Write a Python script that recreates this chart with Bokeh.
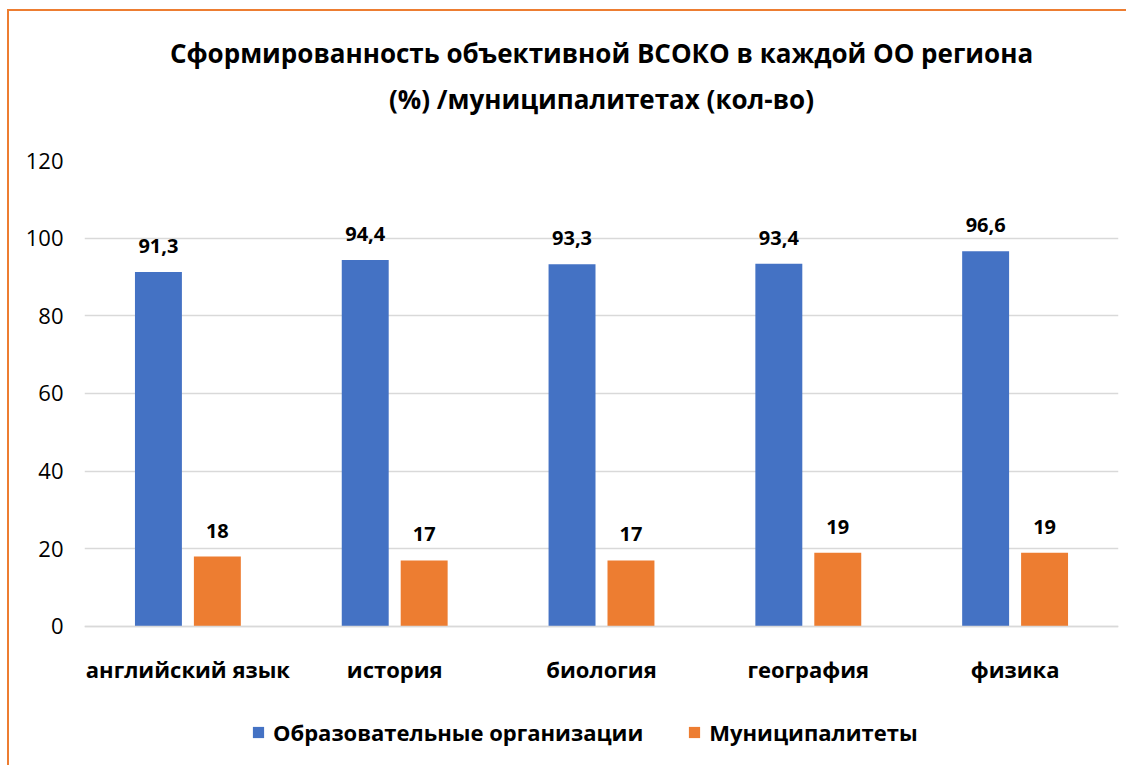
from bokeh.plotting import figure
from bokeh.models import (ColumnDataSource, Range1d, Legend, LegendItem,
                          FixedTicker, LinearAxis)
from bokeh.transform import dodge
from bokeh.core.properties import value
from bokeh.embed import file_html
from bokeh.resources import INLINE

categories = ["английский язык", "история", "биология", "география", "физика"]
orgs = [91.3, 94.4, 93.3, 93.4, 96.6]
munis = [18, 17, 17, 19, 19]
yticks = [0, 20, 40, 60, 80, 100, 120]
series_names = ["Образовательные организации", "Муниципалитеты"]
title_lines = ["Сформированность объективной ВСОКО в каждой ОО региона",
               "(%) /муниципалитетах (кол-во)"]

FONT = "Open Sans"
BLUE = "#4472C4"
ORANGE = "#ED7D31"

# category slot centres on a numeric axis (one unit per category)
xc = [i + 0.5 for i in range(len(categories))]

src = ColumnDataSource(dict(
    xc=xc,
    cat=categories,
    orgs=orgs,
    munis=munis,
    orgs_lbl=[f"{v:.1f}".replace(".", ",") for v in orgs],
    munis_lbl=[str(v) for v in munis],
))

# frame extends below the value axis so that category labels and legend sit inside it
p = figure(x_range=Range1d(0, len(categories)), y_range=Range1d(-35.8, 120),
           frame_width=1034, frame_height=605,
           min_border_left=75, min_border_right=8, min_border_top=149, min_border_bottom=0,
           output_backend="svg", toolbar_location=None, title=None)
p.styles = {"border-left": "2px solid #ED7D31", "border-top": "2px solid #ED7D31",
            "margin-left": "7px", "margin-top": "9px"}
p.outline_line_color = None
p.background_fill_color = "white"
p.border_fill_color = "white"

r1 = p.vbar(x=dodge("xc", -0.1425), top="orgs", bottom=0, width=0.227,
            source=src, fill_color=BLUE, line_color=None)
r2 = p.vbar(x=dodge("xc", 0.1425), top="munis", bottom=0, width=0.227,
            source=src, fill_color=ORANGE, line_color=None)

for col, lbl, off in [("orgs", "orgs_lbl", -0.1425), ("munis", "munis_lbl", 0.1425)]:
    p.text(x=dodge("xc", off), y=col, text=lbl, source=src,
           text_align="center", text_baseline="bottom", y_offset=-19,
           text_font=value(FONT), text_font_style="bold", text_font_size="20px",
           text_color="black")

# axes
p.yaxis.ticker = FixedTicker(ticks=yticks)
p.yaxis.axis_line_color = None
p.yaxis.major_tick_line_color = None
p.yaxis.minor_tick_line_color = None
p.yaxis.major_tick_out = 0
p.yaxis.major_label_text_font = FONT
p.yaxis.major_label_text_font_size = "22px"
p.yaxis.major_label_text_color = "black"
p.yaxis.major_label_standoff = 21

p.xaxis.fixed_location = 0
p.xaxis.ticker = FixedTicker(ticks=xc)
p.xaxis.major_label_overrides = {x: c for x, c in zip(xc, categories)}
p.xaxis.axis_line_color = "#d9d9d9"
p.xaxis.axis_line_width = 1.5
p.xaxis.major_tick_line_color = None
p.xaxis.minor_tick_line_color = None
p.xaxis.major_tick_out = 0
p.xaxis.minor_tick_out = 0
p.xaxis.major_label_text_font = FONT
p.xaxis.major_label_text_font_style = "bold"
p.xaxis.major_label_text_font_size = "22px"
p.xaxis.major_label_text_color = "black"
p.xaxis.major_label_standoff = 28

p.xgrid.grid_line_color = None
p.ygrid.grid_line_color = "#d9d9d9"
p.ygrid.grid_line_width = 1.5

# two-line title, carried by label-only axes above the frame
def title_axis(text, standoff):
    return LinearAxis(ticker=FixedTicker(ticks=[]),
                      axis_label=text, axis_label_standoff=standoff,
                      axis_label_text_font=FONT, axis_label_text_font_style="bold",
                      axis_label_text_font_size="26px", axis_label_text_color="black",
                      axis_line_color=None, major_tick_line_color=None,
                      minor_tick_line_color=None, major_tick_out=0, major_tick_in=0,
                      minor_tick_out=0, minor_tick_in=0, major_label_standoff=0)

p.add_layout(title_axis(title_lines[1], 44), "above")
p.add_layout(title_axis(title_lines[0], 7), "above")

legend = Legend(items=[LegendItem(label=series_names[0], renderers=[r1]),
                       LegendItem(label=series_names[1], renderers=[r2])],
                orientation="horizontal", location=(167, 18),
                glyph_width=14, glyph_height=14, label_standoff=8, spacing=44,
                label_text_font=FONT, label_text_font_style="bold",
                label_text_font_size="22px", label_text_color="black",
                border_line_color=None, background_fill_alpha=0,
                margin=0, padding=0)
p.add_layout(legend, "center")

open("out.html", "w").write(file_html(p, INLINE))
